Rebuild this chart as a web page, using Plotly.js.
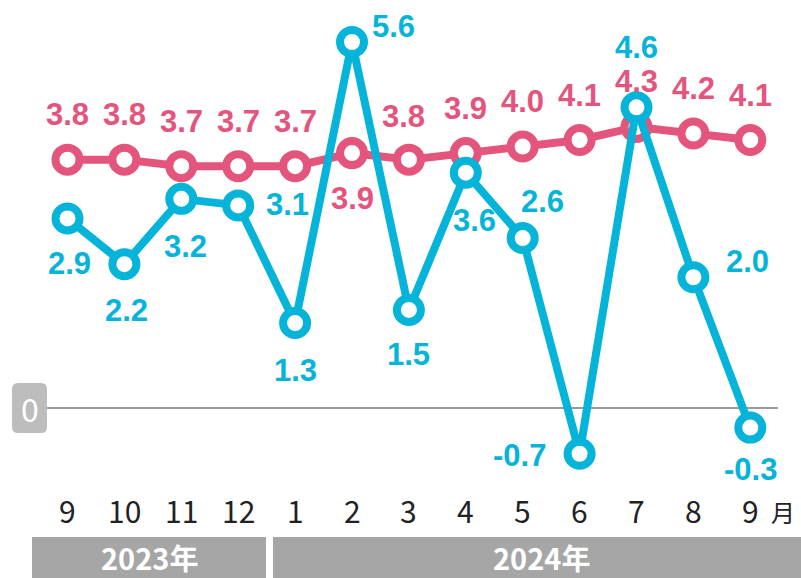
<!DOCTYPE html>
<html>
<head>
<meta charset="utf-8">
<script src="https://cdn.plot.ly/plotly-3.0.1.min.js"></script>
<style>html,body{margin:0;padding:0;background:#fff;}#chart{width:801px;height:578px;}</style>
</head>
<body>
<div id="chart"></div>
<script>
// ---- data ----
const monthLabels = ["9","10","11","12","1","2","3","4","5","6","7","8","9"];
const yearLabels = ["2023年","2024年"];
const pinkValues = [3.8,3.8,3.7,3.7,3.7,3.9,3.8,3.9,4.0,4.1,4.3,4.2,4.1];
const cyanValues = [2.9,2.2,3.2,3.1,1.3,5.6,1.5,3.6,2.6,-0.7,4.6,2.0,-0.3];

// ---- label placement (pixel offsets, style only) ----
const pinkShift = [[0,45],[0,45],[0,45],[0,45],[0,45],[0,-45],[-5,43],[0,45],[0,45],[0,45],[0,45],[0,45],[0,45]];
const cyanShift = [[2,-45],[2,-46],[4,-48],[49,1],[0,-47],[41,15],[0,-45],[9,-48],[20,37],[-60,-2],[0,60],[54,16],[0,-42]];

const W = 801, H = 578;
const PINK = "#E4557D", CYAN = "#05B4D8";
const idx = monthLabels.map((_, i) => i);

function fmt(v){ return v.toFixed(1); }
function px2x(p){ return p / W; }
function px2y(p){ return 1 - p / H; }

const traces = [
  {x: idx, y: pinkValues, type: "scatter", mode: "lines+markers", showlegend: false,
   line: {color: PINK, width: 8},
   marker: {size: 24, color: "#fff", line: {color: PINK, width: 8}}, hoverinfo: "y"},
  {x: idx, y: cyanValues, type: "scatter", mode: "lines+markers", showlegend: false,
   line: {color: CYAN, width: 8},
   marker: {size: 24, color: "#fff", line: {color: CYAN, width: 8}}, hoverinfo: "y"}
];

const labelFont = (c) => ({family: "Liberation Sans, Arial, sans-serif", size: 31, color: c, weight: "bold"});
const annotations = [];
pinkValues.forEach((v, i) => annotations.push({
  x: i, y: v, xref: "x", yref: "y", text: fmt(v), showarrow: false, xanchor: "center", yanchor: "middle",
  xshift: pinkShift[i][0], yshift: pinkShift[i][1], font: labelFont(PINK)
}));
cyanValues.forEach((v, i) => annotations.push({
  x: i, y: v, xref: "x", yref: "y", text: fmt(v), showarrow: false, xanchor: "center", yanchor: "middle",
  xshift: cyanShift[i][0], yshift: cyanShift[i][1], font: labelFont(CYAN)
}));
monthLabels.forEach((m, i) => annotations.push({
  x: i, y: px2y(510), xref: "x", yref: "paper", text: m, showarrow: false, xanchor: "center", yanchor: "middle",
  font: {family: "Noto Sans CJK JP, Noto Sans, sans-serif", size: 30, color: "#222"}
}));
annotations.push({x: px2x(783), y: px2y(511), xref: "paper", yref: "paper", text: "月", showarrow: false,
  xanchor: "center", yanchor: "middle", font: {family: "Noto Sans CJK JP, sans-serif", size: 24, color: "#222"}});
annotations.push({x: px2x(29.5), y: 0, xref: "paper", yref: "y", text: "0", showarrow: false,
  xanchor: "center", yanchor: "middle", font: {family: "Noto Sans CJK JP, Noto Sans, sans-serif", size: 32, color: "#fff"}});
annotations.push({x: px2x(149), y: px2y(557), xref: "paper", yref: "paper", text: yearLabels[0], showarrow: false,
  xanchor: "center", yanchor: "middle", borderpad: 0,
  font: {family: "Noto Sans CJK JP, sans-serif", size: 29, color: "#fff", weight: "bold"}});
annotations.push({x: px2x(541), y: px2y(557), xref: "paper", yref: "paper", text: yearLabels[1], showarrow: false,
  xanchor: "center", yanchor: "middle", borderpad: 0,
  font: {family: "Noto Sans CJK JP, sans-serif", size: 29, color: "#fff", weight: "bold"}});

function roundRect(x0, y0, x1, y1, r){
  const X = px2x, Y = px2y;
  return `M ${X(x0+r)} ${Y(y0)} L ${X(x1-r)} ${Y(y0)} Q ${X(x1)} ${Y(y0)} ${X(x1)} ${Y(y0+r)} ` +
         `L ${X(x1)} ${Y(y1-r)} Q ${X(x1)} ${Y(y1)} ${X(x1-r)} ${Y(y1)} ` +
         `L ${X(x0+r)} ${Y(y1)} Q ${X(x0)} ${Y(y1)} ${X(x0)} ${Y(y1-r)} ` +
         `L ${X(x0)} ${Y(y0+r)} Q ${X(x0)} ${Y(y0)} ${X(x0+r)} ${Y(y0)} Z`;
}

const shapes = [
  {type: "line", xref: "paper", yref: "y", x0: px2x(47), x1: px2x(778), y0: 0, y1: 0,
   line: {color: "#9a9a9a", width: 2}, layer: "below"},
  {type: "path", xref: "paper", yref: "paper", path: roundRect(12, 383, 47, 433, 6),
   fillcolor: "#BDBDBD", line: {width: 0}, layer: "below"},
  {type: "rect", xref: "paper", yref: "paper", x0: px2x(32), x1: px2x(266), y0: 0, y1: px2y(537),
   fillcolor: "#A6A6A6", line: {width: 0}, layer: "below"},
  {type: "rect", xref: "paper", yref: "paper", x0: px2x(273), x1: 1, y0: 0, y1: px2y(537),
   fillcolor: "#A6A6A6", line: {width: 0}, layer: "below"}
];

// axis ranges: category 0 at px 67.5, spacing 56.9 px; value 0 at px 408, 65.36 px per unit
const xr = [-67.5/56.9, (W-67.5)/56.9];
const yr = [(408-H)/65.36, 408/65.36];

const layout = {
  width: W, height: H,
  margin: {l: 0, r: 0, t: 0, b: 0},
  paper_bgcolor: "#fff", plot_bgcolor: "#fff",
  xaxis: {range: xr, visible: false, fixedrange: true},
  yaxis: {range: yr, visible: false, fixedrange: true},
  annotations: annotations, shapes: shapes, showlegend: false
};

Plotly.newPlot("chart", traces, layout, {displayModeBar: false, staticPlot: true});
</script>
</body>
</html>
